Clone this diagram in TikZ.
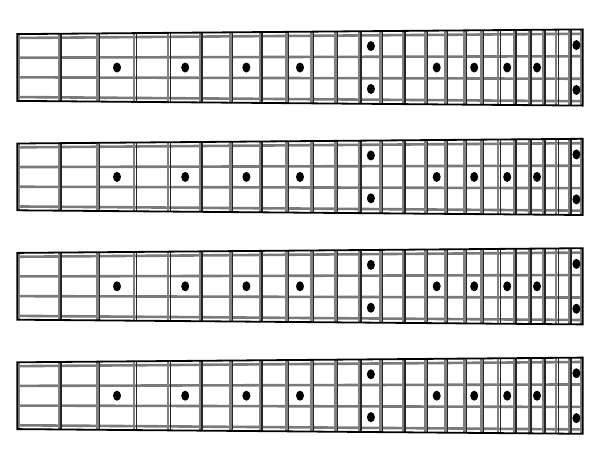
\documentclass[tikz,border=0pt]{standalone}
\usepackage{tikz}
\tikzset{
  stringline/.style={draw=black!52, line width=2.6pt},
  fretgray/.style={draw=black!50, line width=2.2pt},
  fretblack/.style={draw=black!85, line width=1.3pt},
  outline/.style={draw=black, line width=1.8pt},
  inlaydot/.style={fill=black}
}
\begin{document}
\begin{tikzpicture}[x=1pt,y=-1pt]
\useasboundingbox (0,0) rectangle (600,464);
\def\xl{17.3}\def\xr{582.7}\def\hl{33.4}\def\hr{38.1}
\foreach \c in {67.5,176.9,286.3,395.7} {
  % strings
  \foreach \f in {-0.885,-0.295,0.295,0.885} {
    \draw[stringline] (\xl,\c+\f*\hl) -- (\xr,\c+\f*\hr);
  }
  % inner gray of left and right edges
  \draw[fretgray] (\xl+2,\c-\hl) -- (\xl+2,\c+\hl);
  \draw[fretgray] (\xr-2,\c-\hr) -- (\xr-2,\c+\hr);
  % frets
  \foreach \x in {60,98.7,135.3,169.3,201,231.7,261,287.7,312.7,336.7,360,381.7,404,426.7,446.7,465.7,482.7,499.3,515,530,544,557.3,570} {
    \pgfmathsetmacro\h{\hl+(\hr-\hl)*(\x-\xl)/(\xr-\xl)}
    \draw[fretgray] (\x-1.2,\c-\h) -- (\x-1.2,\c+\h);
    \draw[fretblack] (\x+1,\c-\h) -- (\x+1,\c+\h);
  }
  % outline
  \draw[outline] (\xl,\c-\hl) -- (\xr,\c-\hr) -- (\xr,\c+\hr) -- (\xl,\c+\hl) -- cycle;
  % single inlays
  \foreach \x in {117,185.2,246.4,300,436.7,474.2,507.2,537} {
    \fill[inlaydot] (\x,\c) ellipse [x radius=4, y radius=5];
  }
  % double inlays
  \foreach \x in {370.9,576.4} {
    \pgfmathsetmacro\h{\hl+(\hr-\hl)*(\x-\xl)/(\xr-\xl)}
    \fill[inlaydot] (\x,\c-0.59*\h) ellipse [x radius=4, y radius=5];
    \fill[inlaydot] (\x,\c+0.59*\h) ellipse [x radius=4, y radius=5];
  }
}
\end{tikzpicture}
\end{document}
